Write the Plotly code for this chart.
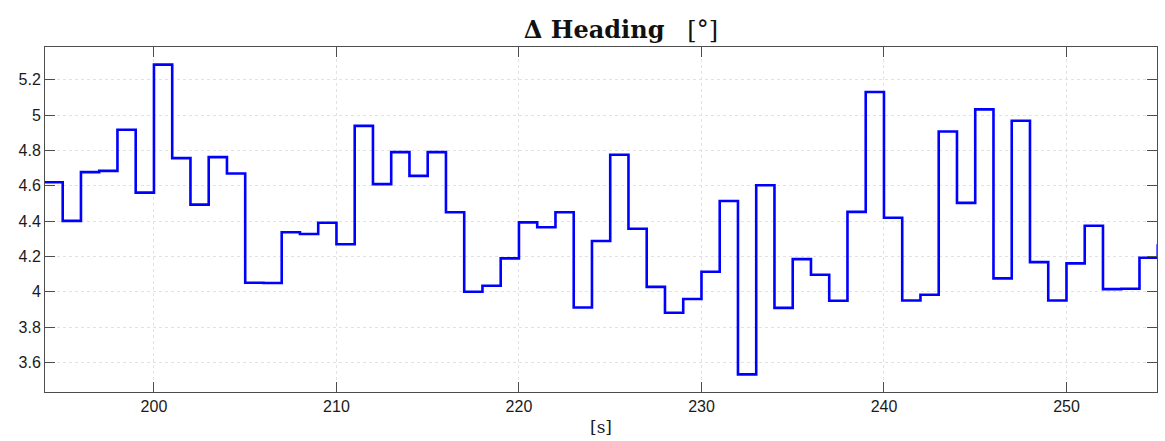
import plotly.graph_objects as go

# Heading deviation, sampled once per second (held between samples)
time_s = list(range(194, 257))
delta_heading = [
    4.620, 4.401, 4.677, 4.684, 4.917, 4.561, 5.285, 4.756, 4.493, 4.762,  # 194-203
    4.669, 4.051, 4.050, 4.337, 4.327, 4.391, 4.269, 4.939, 4.609, 4.790,  # 204-213
    4.656, 4.790, 4.450, 4.000, 4.034, 4.189, 4.393, 4.365, 4.450, 3.911,  # 214-223
    4.287, 4.775, 4.357, 4.028, 3.881, 3.959, 4.113, 4.514, 3.533, 4.603,  # 224-233
    3.909, 4.185, 4.096, 3.949, 4.452, 5.130, 4.419, 3.951, 3.983, 4.907,  # 234-243
    4.503, 5.032, 4.076, 4.968, 4.168, 3.951, 4.161, 4.374, 4.015, 4.017,  # 244-253
    4.193, 4.261, 4.261,                                                   # 254-256
]

x_ticks = [200, 210, 220, 230, 240, 250]
y_ticks = [3.6, 3.8, 4.0, 4.2, 4.4, 4.6, 4.8, 5.0, 5.2]
y_tick_labels = ["3.6", "3.8", "4", "4.2", "4.4", "4.6", "4.8", "5", "5.2"]

fig = go.Figure(
    go.Scatter(
        x=time_s,
        y=delta_heading,
        mode="lines",
        line=dict(color="#0000FF", width=2.6, shape="hv"),
        showlegend=False,
    )
)

axis_common = dict(
    showline=True,
    linecolor="#4d4d4d",
    linewidth=1,
    mirror="ticks",
    ticks="inside",
    ticklen=10,
    tickwidth=1,
    tickcolor="#4d4d4d",
    showgrid=True,
    gridcolor="#e2e2e2",
    gridwidth=1,
    griddash="dot",
    zeroline=False,
    tickfont=dict(family="Liberation Sans, Arial, sans-serif", size=16, color="#1a1a1a"),
)

fig.update_xaxes(
    range=[194.03, 254.96],
    tickvals=x_ticks,
    title=dict(
        text="[s]",
        font=dict(family="DejaVu Serif, serif", size=17, color="#1a1a1a"),
        standoff=6,
    ),
    **axis_common,
)
fig.update_yaxes(
    range=[3.433, 5.385],
    tickvals=y_ticks,
    ticktext=y_tick_labels,
    **axis_common,
)

fig.update_layout(
    width=1165,
    height=441,
    margin=dict(l=45, r=8, t=47, b=49),
    paper_bgcolor="white",
    plot_bgcolor="white",
    title=dict(
        text="<b>Δ Heading</b>&nbsp;&nbsp;&nbsp;[°]",
        x=0.533,
        xanchor="center",
        y=0.932,
        yanchor="middle",
        font=dict(family="DejaVu Serif, serif", size=24, color="#111111"),
    ),
)

fig.write_html("out.html")
